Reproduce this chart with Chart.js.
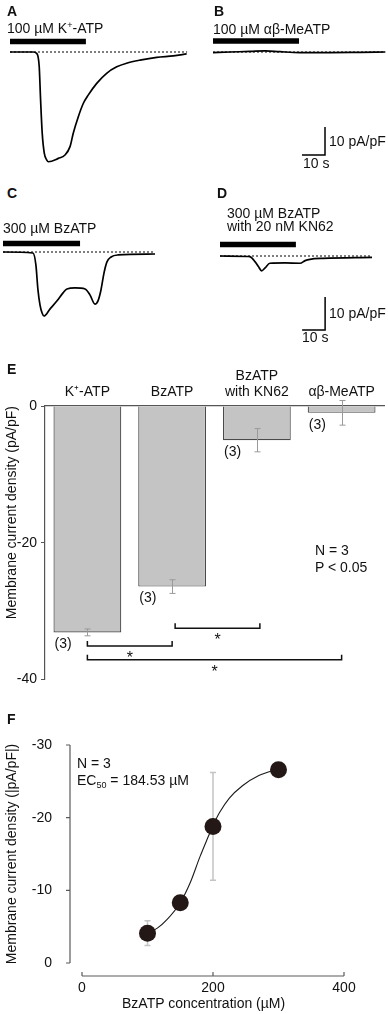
<!DOCTYPE html>
<html><head><meta charset="utf-8">
<script src="https://cdn.jsdelivr.net/npm/chart.js@4.4.1/dist/chart.umd.min.js"></script>
<style>
html,body{margin:0;padding:0;background:#fff;}
body{width:388px;height:1014px;position:relative;overflow:hidden;font-family:"Liberation Sans",Arial,Helvetica,sans-serif;color:#111;}
canvas{position:absolute;}
.t{position:absolute;font-size:14px;line-height:16px;white-space:nowrap;}
.L{font-weight:bold;font-size:14px;}
sup{font-size:9px;vertical-align:5px;line-height:0;}
sub{font-size:9px;vertical-align:-3px;line-height:0;}
</style></head><body>
<canvas id="cA"></canvas><canvas id="cB"></canvas><canvas id="cC"></canvas><canvas id="cD"></canvas>
<canvas id="cE"></canvas><canvas id="cF"></canvas>

<div class="t L" style="left:7px;top:3px">A</div>
<div class="t L" style="left:214px;top:3px">B</div>
<div class="t" style="left:7px;top:20px">100 µM K<sup>+</sup>-ATP</div>
<div class="t" style="left:213px;top:21px">100 µM αβ-MeATP</div>
<div class="t" style="left:329px;top:133px">10 pA/pF</div>
<div class="t" style="left:303px;top:155px">10 s</div>
<div class="t L" style="left:7px;top:185px">C</div>
<div class="t L" style="left:217px;top:185px">D</div>
<div class="t" style="left:3px;top:220px">300 µM BzATP</div>
<div class="t" style="left:227px;top:205px">300 µM BzATP</div>
<div class="t" style="left:227px;top:218px">with 20 nM KN62</div>
<div class="t" style="left:329px;top:305px">10 pA/pF</div>
<div class="t" style="left:302px;top:329px">10 s</div>
<div class="t L" style="left:7px;top:361px">E</div>
<div class="t" style="left:315px;top:542px">N = 3</div>
<div class="t" style="left:315px;top:559px">P &lt; 0.05</div>
<div class="t L" style="left:7px;top:711px">F</div>
<div class="t" style="left:77px;top:755px">N = 3</div>
<div class="t" style="left:77px;top:772px">EC<sub>50</sub> = 184.53 µM</div>
<div class="t" style="left:122px;top:995px">BzATP concentration (µM)</div>

<script>
const FONT = '"Liberation Sans", Arial, Helvetica, sans-serif';

// ---------- Panels A–D: current traces, [time (s), current density (pA/pF)]
const traceA = [[0,0],[10.1,0],[11.6,-0.5],[12.7,-5.2],[13.3,-17.1],[14.0,-28.9],[14.9,-36.1],[16.0,-38.6],[16.7,-39.2],[21.0,-38.0],[23.9,-36.8],[26.1,-33.8],[27.5,-29.0],[29.7,-23.1],[31.9,-18.3],[34.0,-15.4],[37.7,-11.2],[42.0,-7.6],[46.4,-5.3],[50.7,-4.0],[56.5,-2.9],[63.8,-1.9],[71.0,-1.4],[76.8,-0.7]];
const traceB = [[0,-0.2],[7.4,0],[16.1,0.2],[22.6,0.4],[29.1,0.1],[37.8,-0.2],[50.9,-0.2],[63.9,-0.1],[74.8,0]];
const traceC = [[0,0],[13.0,-0.3],[14.3,-3.9],[15.2,-11.5],[16.1,-16.1],[17.0,-18.5],[17.8,-19.4],[20.4,-17.3],[23.5,-14.8],[26.1,-12.4],[27.8,-11.2],[31.3,-10.9],[35.7,-11.2],[37.8,-13.0],[40.0,-15.8],[41.3,-14.8],[42.6,-11.5],[43.9,-6.4],[45.2,-3.0],[47.0,-1.5],[50.0,-0.9],[66.1,-0.6]];
const traceD = [[0,0],[12.2,-0.15],[13.0,-0.2],[15.2,-1.7],[16.7,-3.2],[18.1,-4.5],[19.6,-3.6],[21.7,-2.2],[28.3,-2.1],[34.8,-2.2],[37.0,-1.4],[39.1,-1.0],[44.8,-0.7],[66.1,-0.4]];
// drug application windows (s) and baseline extents (s)
const drugA = [0, 33], drugB = [0, 37.4], drugC = [0, 33.5], drugD = [0, 33];
const baseA = [0, 77], baseB = [0, 75], baseC = [0, 66], baseD = [0, 66];
const scaleBarTime = 10, scaleBarCurrent = 10;

// ---------- Panel E: bar chart
const categories = [['K⁺-ATP'], ['BzATP'], ['BzATP', 'with KN62'], ['αβ-MeATP']];
const meanDensity = [-33.1, -26.4, -5.0, -1.0];
const semDensity = [0.5, 1.0, 1.7, 1.8];
const nCells = [3, 3, 3, 3];
const sigPairs = [[0, 1], [1, 2], [0, 3]];
const yTicksE = [0, -20, -40];

// ---------- Panel F: dose response
const concF = [100, 150, 200, 300];
const densityF = [-4.1, -8.3, -18.8, -26.6];
const semF = [1.7, 0.6, 7.4, 0.5];
const fitConc = [99, 115, 130, 150, 165, 180, 190, 200, 210, 225, 245, 270, 299];
const fitDensity = [-4.1, -4.8, -6.0, -8.3, -11.0, -14.6, -16.8, -18.9, -20.7, -22.7, -24.4, -25.8, -26.7];
const xTicksF = [0, 200, 400];
const yTicksF = [-30, -20, -10, 0];

Chart.defaults.font.family = FONT;
Chart.defaults.color = '#111';

function scaleBarPlugin(sb) {
  return {
    id: 'scalebar',
    afterDatasetsDraw(chart) {
      const {ctx, scales: {x, y}} = chart;
      const cx = x.getPixelForValue(sb.t), cy = y.getPixelForValue(sb.i);
      const lx = x.getPixelForValue(sb.t - scaleBarTime), ty = y.getPixelForValue(sb.i + scaleBarCurrent);
      ctx.save(); ctx.strokeStyle = '#000'; ctx.lineWidth = 1.5;
      ctx.beginPath(); ctx.moveTo(lx, cy); ctx.lineTo(cx, cy); ctx.lineTo(cx, ty); ctx.stroke();
      ctx.restore();
    }
  };
}

function makeTrace(id, o) {
  const cv = document.getElementById(id);
  const [L, T, W, H] = o.box;
  cv.style.left = L + 'px'; cv.style.top = T + 'px'; cv.width = W; cv.height = H;
  const xmin = (L - o.origin[0]) / o.sx, xmax = (L + W - o.origin[0]) / o.sx;
  const ymax = (o.origin[1] - T) / o.sy, ymin = (o.origin[1] - T - H) / o.sy;
  const barLevel = (o.origin[1] - o.barY) / o.sy;
  const ds = [
    {data: o.trace.map(p => ({x: p[0], y: p[1]})), borderColor: '#000', borderWidth: 1.7, pointRadius: 0, cubicInterpolationMode: 'monotone', order: 2},
    {data: o.base.map(t => ({x: t, y: 0})), borderColor: '#000', borderWidth: 1, borderDash: [2, 2], pointRadius: 0, order: 1},
    {data: o.drug.map(t => ({x: t, y: barLevel})), borderColor: '#000', borderWidth: 5.5, borderCapStyle: 'butt', pointRadius: 0, order: 0}
  ];
  new Chart(cv, {
    type: 'line',
    data: {datasets: ds},
    options: {
      responsive: false, animation: false, devicePixelRatio: 1,
      layout: {padding: 0},
      plugins: {legend: {display: false}, tooltip: {enabled: false}},
      scales: {x: {type: 'linear', display: false, min: xmin, max: xmax}, y: {display: false, min: ymin, max: ymax}}
    },
    plugins: o.scaleBar ? [scaleBarPlugin(o.scaleBar)] : []
  });
}

makeTrace('cA', {box: [0, 18, 194, 162], origin: [10, 52], sx: 2.3, sy: 2.8, barY: 41.5, trace: traceA, drug: drugA, base: baseA});
makeTrace('cB', {box: [194, 18, 194, 162], origin: [213, 52], sx: 2.3, sy: 2.8, barY: 41, trace: traceB, drug: drugB, base: baseB, scaleBar: {t: 48.7, i: -36.8}});
makeTrace('cC', {box: [0, 232, 194, 118], origin: [3, 252], sx: 2.3, sy: 3.3, barY: 243.5, trace: traceC, drug: drugC, base: baseC});
makeTrace('cD', {box: [194, 232, 194, 118], origin: [220, 256], sx: 2.3, sy: 3.3, barY: 244.5, trace: traceD, drug: drugD, base: baseD, scaleBar: {t: 45.7, i: -22.4}});

// ---------- Panel E
const barExtras = {
  id: 'barExtras',
  afterDatasetsDraw(chart, args, opts) {
    const {ctx, scales: {y}} = chart;
    const bars = chart.getDatasetMeta(0).data;
    ctx.save();
    ctx.strokeStyle = '#9a9a9a'; ctx.lineWidth = 1;
    bars.forEach((bar, i) => {
      const cx = Math.round(bar.x) + 0.5;
      const y1 = y.getPixelForValue(meanDensity[i] - semDensity[i]);
      const y2 = y.getPixelForValue(meanDensity[i] + semDensity[i]);
      ctx.beginPath();
      ctx.moveTo(cx, y1); ctx.lineTo(cx, y2);
      ctx.moveTo(cx - 3, y1); ctx.lineTo(cx + 3, y1);
      ctx.moveTo(cx - 3, y2); ctx.lineTo(cx + 3, y2);
      ctx.stroke();
    });
    ctx.fillStyle = '#111'; ctx.font = '14px ' + FONT; ctx.textBaseline = 'middle'; ctx.textAlign = 'left';
    bars.forEach((bar, i) => {
      ctx.fillText('(' + nCells[i] + ')', bar.x - bar.width / 2 + 1, bar.y + 12);
    });
    ctx.strokeStyle = '#111'; ctx.lineWidth = 1.5;
    ctx.textAlign = 'center'; ctx.textBaseline = 'alphabetic'; ctx.font = '16px ' + FONT;
    sigPairs.forEach((pr, k) => {
      const lv = y.getPixelForValue(opts.levels[k]);
      const x1 = bars[pr[0]].x + opts.shift[k], x2 = bars[pr[1]].x + opts.shift[k];
      ctx.beginPath();
      ctx.moveTo(x1, lv - 5); ctx.lineTo(x1, lv); ctx.lineTo(x2, lv); ctx.lineTo(x2, lv - 5);
      ctx.stroke();
      ctx.fillText('*', (x1 + x2) / 2, lv + 17);
    });
    ctx.restore();
  }
};

(function () {
  const cv = document.getElementById('cE');
  cv.style.left = '0px'; cv.style.top = '360px'; cv.width = 388; cv.height = 332;
  new Chart(cv, {
    type: 'bar',
    data: {labels: categories, datasets: [{data: meanDensity, backgroundColor: '#c4c4c4', borderColor: '#4a4a4a', borderWidth: 1.2, barPercentage: 0.8, categoryPercentage: 1}]},
    options: {
      responsive: false, animation: false, devicePixelRatio: 1,
      layout: {padding: {left: 0, right: 4, top: 0, bottom: 0}},
      plugins: {legend: {display: false}, tooltip: {enabled: false},
        barExtras: {levels: [-35.1, -32.5, -37.1], shift: [0, 3, 0]}},
      scales: {
        x: {position: 'top', grid: {display: false, drawTicks: false}, border: {display: true, color: '#555', width: 1.2},
          ticks: {color: '#111', font: {size: 14}, padding: 5, maxRotation: 0, autoSkip: false},
          afterFit(s) { s.height = 46; }},
        y: {min: -40, max: 0,
          afterBuildTicks(s) { s.ticks = yTicksE.map(v => ({value: v})); },
          ticks: {color: '#111', font: {size: 14}, padding: 4},
          grid: {display: true, drawOnChartArea: false, drawTicks: true, tickLength: 4, color: '#555'},
          border: {display: true, color: '#555', width: 1.2},
          title: {display: true, text: 'Membrane current density (pA/pF)', align: 'end', color: '#111', font: {size: 14}, padding: {top: 3.6, bottom: 0}},
          afterFit(s) { s.width = 45; }}
      }
    },
    plugins: [barExtras]
  });
})();

// ---------- Panel F
const offsetAxes = {
  id: 'offsetAxes',
  afterDraw(chart) {
    const {ctx, scales: {x, y}} = chart;
    ctx.save(); ctx.strokeStyle = '#5a5a5a'; ctx.lineWidth = 1.2;
    const ax = x.getPixelForValue(0) - 12;
    const ay = y.getPixelForValue(0) + 13;
    ctx.beginPath();
    ctx.moveTo(ax, y.getPixelForValue(yTicksF[0])); ctx.lineTo(ax, y.getPixelForValue(0));
    yTicksF.forEach(v => { const p = y.getPixelForValue(v); ctx.moveTo(ax - 4, p); ctx.lineTo(ax, p); });
    ctx.moveTo(x.getPixelForValue(xTicksF[0]), ay); ctx.lineTo(x.getPixelForValue(xTicksF[xTicksF.length - 1]), ay);
    xTicksF.forEach(v => { const p = x.getPixelForValue(v); ctx.moveTo(p, ay); ctx.lineTo(p, ay - 4); });
    ctx.stroke();
    ctx.restore();
  }
};
const errF = {
  id: 'errF',
  beforeDatasetsDraw(chart) {
    const {ctx, scales: {x, y}} = chart;
    ctx.save(); ctx.strokeStyle = '#c4c4c4'; ctx.lineWidth = 1.5;
    concF.forEach((c, i) => {
      const px = x.getPixelForValue(c);
      const y1 = y.getPixelForValue(densityF[i] - semF[i]), y2 = y.getPixelForValue(densityF[i] + semF[i]);
      ctx.beginPath();
      ctx.moveTo(px, y1); ctx.lineTo(px, y2);
      ctx.moveTo(px - 3, y1); ctx.lineTo(px + 3, y1);
      ctx.moveTo(px - 3, y2); ctx.lineTo(px + 3, y2);
      ctx.stroke();
    });
    ctx.restore();
  }
};

(function () {
  const cv = document.getElementById('cF');
  cv.style.left = '0px'; cv.style.top = '730px'; cv.width = 388; cv.height = 284;
  new Chart(cv, {
    type: 'scatter',
    data: {datasets: [
      {type: 'line', data: fitConc.map((c, i) => ({x: c, y: fitDensity[i]})), borderColor: '#1a1a1a', borderWidth: 1.1, pointRadius: 0, cubicInterpolationMode: 'monotone', order: 2},
      {data: concF.map((c, i) => ({x: c, y: densityF[i]})), backgroundColor: '#231815', borderColor: '#231815', pointRadius: 8.5, borderWidth: 0, order: 1}
    ]},
    options: {
      responsive: false, animation: false, devicePixelRatio: 1,
      layout: {padding: {top: 15, right: 44, bottom: 0, left: 0}},
      plugins: {legend: {display: false}, tooltip: {enabled: false}},
      scales: {
        x: {type: 'linear', min: 0, max: 400,
          afterBuildTicks(s) { s.ticks = xTicksF.map(v => ({value: v})); },
          ticks: {color: '#111', font: {size: 14}, padding: 4},
          grid: {display: false, drawTicks: true, tickLength: 13}, border: {display: false},
          afterFit(s) { s.height = 51; }},
        y: {min: -30, max: 0, reverse: true,
          afterBuildTicks(s) { s.ticks = yTicksF.map(v => ({value: v})); },
          ticks: {color: '#111', font: {size: 14}, padding: 4},
          grid: {display: false, drawTicks: true, tickLength: 26}, border: {display: false},
          title: {display: true, text: 'Membrane current density (|pA/pF|)', color: '#111', font: {size: 14}, padding: {top: 3.6, bottom: 0}},
          afterFit(s) { s.width = 82; }}
      }
    },
    plugins: [errF, offsetAxes]
  });
})();
</script>
</body></html>
